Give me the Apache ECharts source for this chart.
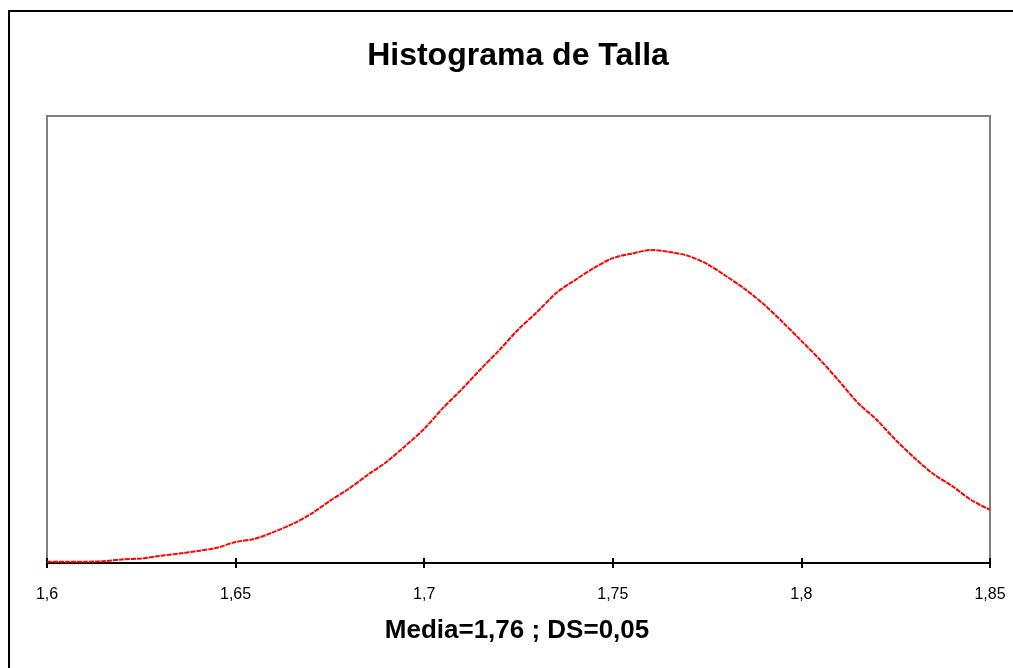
<!DOCTYPE html>
<html>
<head>
<meta charset="utf-8">
<script src="https://cdn.jsdelivr.net/npm/echarts@6/dist/echarts.min.js"></script>
<style>
  html, body { margin: 0; padding: 0; background: #fff; }
  #chart { width: 1013px; height: 668px; }
</style>
</head>
<body>
<div id="chart"></div>
<script>
// talla (m), paso 0,005
var tallaList = [
  1.600, 1.605, 1.610, 1.615, 1.620, 1.625, 1.630, 1.635, 1.640, 1.645,
  1.650, 1.655, 1.660, 1.665, 1.670, 1.675, 1.680, 1.685, 1.690, 1.695,
  1.700, 1.705, 1.710, 1.715, 1.720, 1.725, 1.730, 1.735, 1.740, 1.745,
  1.750, 1.755, 1.760, 1.765, 1.770, 1.775, 1.780, 1.785, 1.790, 1.795,
  1.800, 1.805, 1.810, 1.815, 1.820, 1.825, 1.830, 1.835, 1.840, 1.845,
  1.850
]
// frecuencia
var frecuenciaList = [
  0.03, 0.03, 0.03, 0.04, 0.08, 0.10, 0.16, 0.21, 0.27, 0.34,
  0.47, 0.54, 0.69, 0.87, 1.10, 1.39, 1.66, 1.97, 2.26, 2.62,
  3.00, 3.47, 3.89, 4.34, 4.77, 5.23, 5.62, 6.04, 6.33, 6.60,
  6.82, 6.92, 7.00, 6.96, 6.87, 6.69, 6.42, 6.13, 5.79, 5.39,
  4.97, 4.54, 4.07, 3.58, 3.20, 2.75, 2.35, 1.99, 1.72, 1.41,
  1.19
]
var tickValues = [1.6, 1.65, 1.7, 1.75, 1.8, 1.85]
var tickLabels = ['1,6', '1,65', '1,7', '1,75', '1,8', '1,85']

var chartTitle = 'Histograma de Talla'
var chartSubtitle = 'Media=1,76 ; DS=0,05'

var fontName = '"Liberation Sans", Arial, sans-serif'

function tickLabel(value) {
  // buscar la etiqueta del tick mas cercano
  for (var i = 0; i < tickValues.length; i++) {
    if (Math.abs(tickValues[i] - value) < 1e-6) return tickLabels[i]
  }
  return ''
}

var chart = echarts.init(document.getElementById('chart'))

var baseAxis = {
  type: 'value',
  min: 1.6,
  max: 1.85,
  interval: 0.05,
  position: 'bottom',
  splitLine: { show: false },
  axisLine: { show: true, onZero: false, lineStyle: { color: '#000', width: 2 } }
}

chart.setOption({
  animation: false,
  backgroundColor: '#fff',
  grid: {
    left: 47,
    top: 116,
    width: 943,
    height: 447,
    show: true,
    borderColor: '#808080',
    borderWidth: 2,
    backgroundColor: '#fff'
  },
  graphic: [
    {
      type: 'rect',
      shape: { x: 9, y: 11, width: 1020, height: 680 },
      style: { fill: null, stroke: '#000', lineWidth: 2 },
      silent: true
    },
    {
      type: 'text',
      x: 518,
      y: 56,
      style: {
        text: chartTitle,
        font: 'bold 32px ' + fontName,
        fill: '#000',
        textAlign: 'center',
        textVerticalAlign: 'middle'
      }
    },
    {
      type: 'text',
      x: 517,
      y: 631,
      style: {
        text: chartSubtitle,
        font: 'bold 26px ' + fontName,
        fill: '#000',
        textAlign: 'center',
        textVerticalAlign: 'middle'
      }
    }
  ],
  xAxis: [
    Object.assign({}, baseAxis, {
      axisTick: { show: true, inside: false, length: 5, lineStyle: { color: '#000', width: 2 } },
      axisLabel: {
        margin: 24,
        color: '#000',
        fontSize: 16,
        fontFamily: fontName,
        formatter: tickLabel
      }
    }),
    Object.assign({}, baseAxis, {
      axisTick: { show: true, inside: true, length: 5, lineStyle: { color: '#000', width: 2 } },
      axisLabel: { show: false }
    })
  ],
  yAxis: {
    type: 'value',
    min: 0,
    max: 10,
    show: false,
    splitLine: { show: false }
  },
  series: [
    {
      type: 'line',
      data: tallaList.map(function (t, i) { return [t, frecuenciaList[i]] }),
      smooth: 0.3,
      showSymbol: false,
      lineStyle: { color: '#ff0000', width: 2, type: [5, 1] },
      z: 3
    }
  ]
})
</script>
</body>
</html>
